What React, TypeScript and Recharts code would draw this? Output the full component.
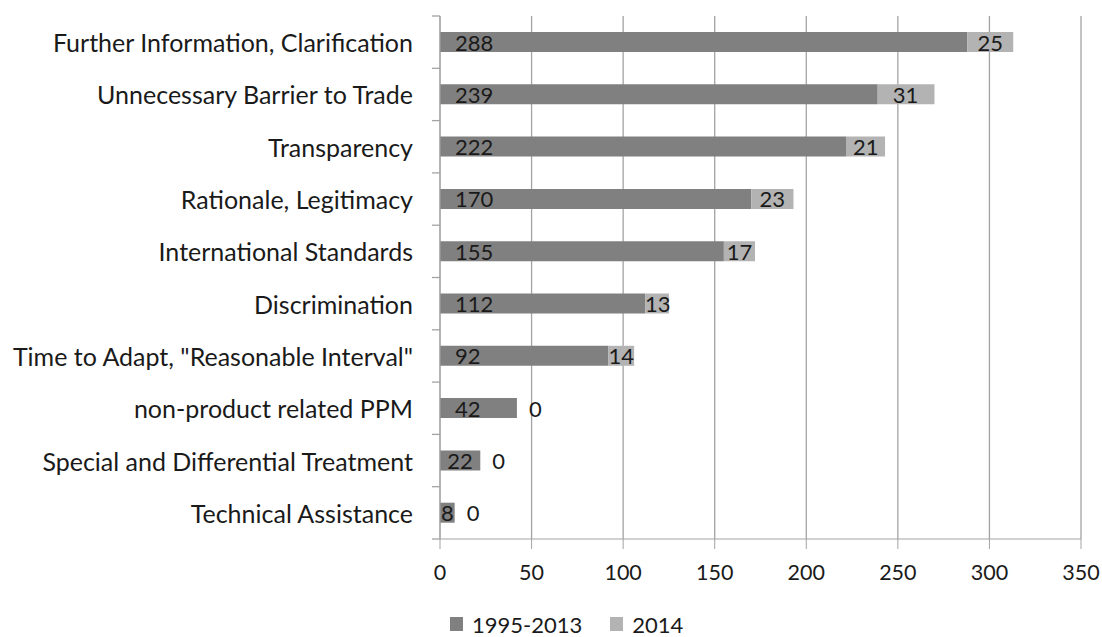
import React from "react";
import {
  BarChart,
  Bar,
  XAxis,
  YAxis,
  CartesianGrid,
  Legend,
  LabelList,
} from "recharts";

const categories = [
  "Further Information, Clarification",
  "Unnecessary Barrier to Trade",
  "Transparency",
  "Rationale, Legitimacy",
  "International Standards",
  "Discrimination",
  'Time to Adapt, "Reasonable Interval"',
  "non-product related PPM",
  "Special and Differential Treatment",
  "Technical Assistance",
];
const period1995to2013 = [288, 239, 222, 170, 155, 112, 92, 42, 22, 8];
const period2014 = [25, 31, 21, 23, 17, 13, 14, 0, 0, 0];
const xTicks = [0, 50, 100, 150, 200, 250, 300, 350];

const FONT = "Lato, 'DejaVu Sans', sans-serif";
const TEXT = "#1a1a1a";
const GRID = "#a3a3a3";
const DARK = "#808080";
const LIGHT = "#b3b3b3";
const TICK_MARGIN = 27;

const data = categories.map((name, i) => ({
  name,
  early: period1995to2013[i],
  recent: period2014[i],
}));

// where Excel puts an "inside base" label, roughly
function labelOffset(value: number, width: number) {
  const tw = String(value).length * 12.8;
  if (width >= tw) return Math.min(15, (width - tw) / 2);
  return width < 20 ? 4 : 0;
}

function valueText(x: number, y: number, value: number) {
  return (
    <text
      x={x}
      y={y}
      dominantBaseline="central"
      fill={TEXT}
      fontSize={22}
      fontFamily={FONT}
    >
      {value}
    </text>
  );
}

function EarlyLabel(props: any) {
  const { x, y, width, height, value, index } = props;
  const cy = y + height / 2;
  // zero-width 2014 segments get no label from recharts, so draw them here
  const zero = period2014[index] === 0;
  return (
    <g>
      {valueText(x + labelOffset(value, width), cy, value)}
      {zero && valueText(x + width + 12, cy, period2014[index])}
    </g>
  );
}

function RecentLabel(props: any) {
  const { x, y, width, height, value } = props;
  if (!value) return null;
  return valueText(x + labelOffset(value, width), y + height / 2, value);
}

// category label plus Excel-style tick marks between the categories
function CategoryTick(props: any) {
  const { x, y, payload, index, visibleTicksCount } = props;
  const half = payload.offset || 0;
  const axisX = x + TICK_MARGIN;
  const last = index === visibleTicksCount - 1;
  return (
    <g>
      <text
        x={x}
        y={y}
        textAnchor="end"
        dominantBaseline="central"
        fill={TEXT}
        fontSize={25}
        fontFamily={FONT}
      >
        {payload.value}
      </text>
      <line
        x1={axisX - 8}
        x2={axisX}
        y1={y - half}
        y2={y - half}
        stroke={GRID}
        strokeWidth={1.3}
      />
      {last && (
        <line
          x1={axisX - 8}
          x2={axisX}
          y1={y + half}
          y2={y + half}
          stroke={GRID}
          strokeWidth={1.3}
        />
      )}
    </g>
  );
}

function LegendBox() {
  const items = [
    { label: "1995-2013", color: DARK },
    { label: "2014", color: LIGHT },
  ];
  return (
    <div
      style={{
        display: "flex",
        height: 30,
        alignItems: "center",
        transform: "translateY(2px)",
        fontFamily: FONT,
        fontSize: 22,
        color: TEXT,
      }}
    >
      {items.map((it) => (
        <div
          key={it.label}
          style={{ display: "flex", alignItems: "center", marginRight: 28 }}
        >
          <span
            style={{
              width: 13,
              height: 14,
              background: it.color,
              display: "inline-block",
              marginRight: 9,
            }}
          />
          <span>{it.label}</span>
        </div>
      ))}
    </div>
  );
}

export default function App() {
  return (
    <div
      style={{
        position: "fixed",
        top: 0,
        left: 0,
        width: 1102,
        height: 637,
        overflow: "hidden",
        background: "#fff",
      }}
    >
      <BarChart
        width={1102}
        height={637}
        data={data}
        layout="vertical"
        margin={{ top: 16, right: 21, left: 8, bottom: 0 }}
        barSize={20}
      >
        <CartesianGrid horizontal={false} stroke={GRID} strokeWidth={1.3} />
        <XAxis
          type="number"
          domain={[0, 350]}
          ticks={xTicks}
          height={68}
          tickSize={10}
          tickMargin={16}
          stroke={GRID}
          tick={{ fill: TEXT, fontSize: 21.5, fontFamily: FONT }}
        />
        <YAxis
          type="category"
          dataKey="name"
          width={432}
          stroke={GRID}
          tickLine={false}
          tickSize={0}
          tickMargin={TICK_MARGIN}
          tick={<CategoryTick />}
        />
        <Legend
          verticalAlign="bottom"
          align="left"
          content={<LegendBox />}
          wrapperStyle={{ left: 450, width: "auto" }}
        />
        <Bar
          dataKey="early"
          name="1995-2013"
          stackId="a"
          fill={DARK}
          isAnimationActive={false}
        >
          <LabelList dataKey="early" content={<EarlyLabel />} />
        </Bar>
        <Bar
          dataKey="recent"
          name="2014"
          stackId="a"
          fill={LIGHT}
          isAnimationActive={false}
        >
          <LabelList dataKey="recent" content={<RecentLabel />} />
        </Bar>
      </BarChart>
    </div>
  );
}
